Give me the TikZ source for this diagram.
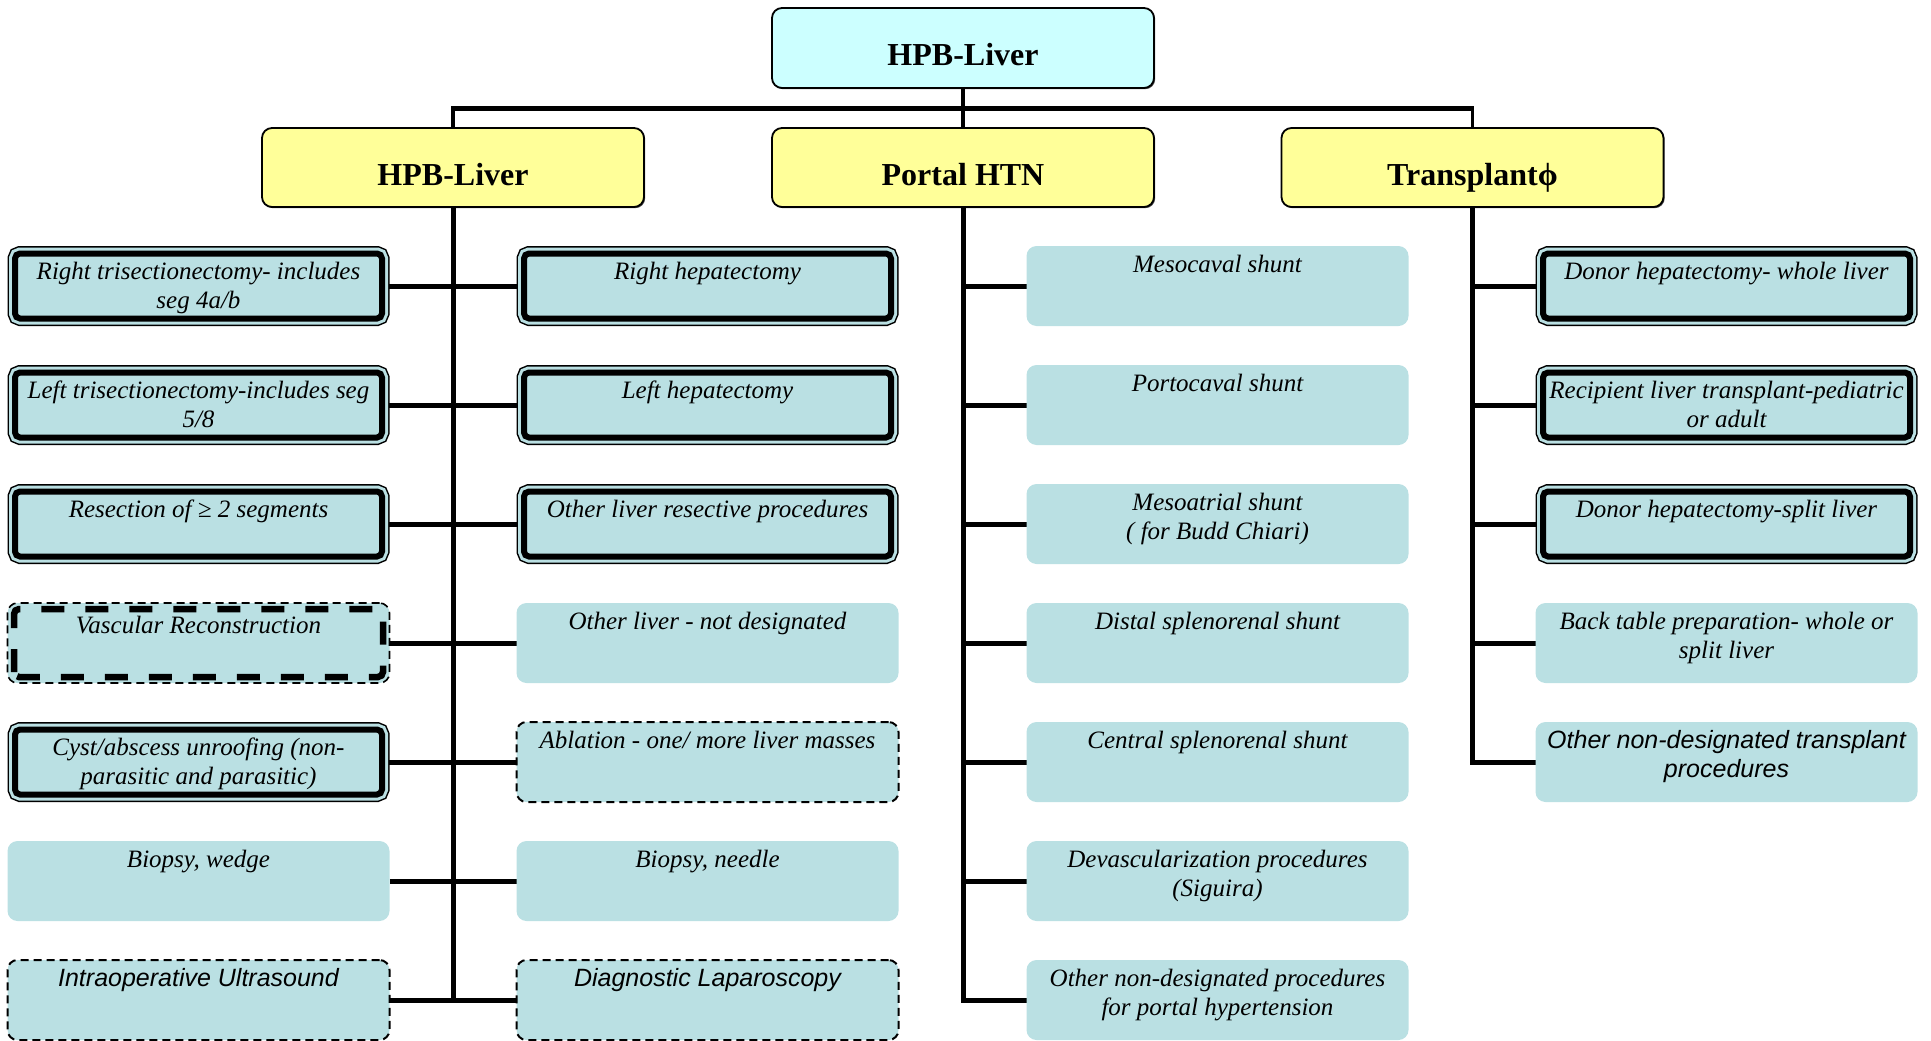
\documentclass[tikz,border=0pt]{standalone}
\usepackage{fontspec}
\setmainfont{Liberation Serif}
\newfontfamily\arialfont{Liberation Sans}
\usetikzlibrary{backgrounds,shadows}
\definecolor{boxteal}{RGB}{186,224,227}
\definecolor{topcyan}{RGB}{204,255,255}
\definecolor{midyellow}{RGB}{255,255,153}
\begin{document}
\begin{tikzpicture}[x=1pt,y=-1pt,
  every node/.style={outer sep=0pt},
  headbox/.style={rounded corners=10pt, draw=black, line width=1.8pt,
    minimum width=382pt, inner xsep=2pt, inner ysep=0pt,
    font=\fontsize{32}{38}\selectfont\bfseries,
    drop shadow={shadow xshift=1.2pt, shadow yshift=-1.2pt, fill=black, opacity=0.7}},
  rootbox/.style={headbox, fill=topcyan, text height=58pt, text depth=22pt},
  midbox/.style={headbox, fill=midyellow, text height=57.5pt, text depth=21.5pt},
  itemfont/.style={font=\fontsize{25}{29}\selectfont\itshape},
  sansfont/.style={font=\fontsize{25}{29}\selectfont\arialfont\itshape},
  plainbox/.style={itemfont, rounded corners=10pt, fill=boxteal, align=center,
    minimum width=382pt, inner xsep=2pt, inner ysep=0pt,
    text height=26pt, text depth=54pt},
  plaintwo/.style={text height=55pt, text depth=25pt},
  dashbox/.style={plainbox, draw=black, line width=2pt, dash pattern=on 8pt off 5pt},
  vascbox/.style={plainbox, draw=black, line width=1.6pt, dash pattern=on 8pt off 5pt,
    text height=30pt, text depth=50pt},
  vascinner/.style={draw=black, line width=6.5pt, dash pattern=on 23pt off 21pt, rounded corners=5pt},
  dblbox/.style={itemfont, rounded corners=5pt, align=center,
    minimum width=367pt, inner xsep=2pt, inner ysep=0pt,
    text height=25.5pt, text depth=39.5pt,
    fill=boxteal, draw=black, line width=6pt,
    preaction={draw=black, line width=15pt},
    preaction={draw=boxteal, line width=12pt}},
  dbltwo/.style={text height=54.5pt, text depth=10.5pt},
  conn/.style={draw=black, line width=5pt},
  barline/.style={draw=black, line width=5pt},
  stub/.style={draw=black, line width=3.5pt}
]
\useasboundingbox (0,0) rectangle (1931,1041);

% top levels
\node[rootbox] (root) at (963,48) {HPB-Liver};
\node[midbox] (m1) at (453,167.5) {HPB-Liver};
\node[midbox] (m2) at (963,167.5) {Portal HTN};
\node[midbox] (m3) at (1472.5,167.5) {Transplant\symbol{"03D5}};
\coordinate (barc) at (963,108);

% column 1
\node[dblbox, dbltwo] (a1) at (198.5,286)  {Right trisectionectomy- includes\\seg 4a/b};
\node[dblbox, dbltwo] (a2) at (198.5,405)  {Left trisectionectomy-includes seg\\5/8};
\node[dblbox]   (a3) at (198.5,524)  {Resection of ≥ 2 segments};
\node[vascbox]  (a4) at (198.5,643)  {Vascular Reconstruction};
\node[dblbox, dbltwo] (a5) at (198.5,762)  {Cyst/abscess unroofing (non-\\parasitic and parasitic)};
\node[plainbox] (a6) at (198.5,881)  {Biopsy, wedge};
\node[dashbox, sansfont] (a7) at (198.5,1000) {Intraoperative Ultrasound};
\draw[vascinner] ([xshift=6.5pt,yshift=6pt]a4.south west) rectangle ([xshift=-6.5pt,yshift=-6pt]a4.north east);

% column 2
\node[dblbox]   (b1) at (707.5,286)  {Right hepatectomy};
\node[dblbox]   (b2) at (707.5,405)  {Left hepatectomy};
\node[dblbox]   (b3) at (707.5,524)  {Other liver resective procedures};
\node[plainbox] (b4) at (707.5,643)  {Other liver - not designated};
\node[dashbox]  (b5) at (707.5,762)  {Ablation - one/ more liver masses};
\node[plainbox] (b6) at (707.5,881)  {Biopsy, needle};
\node[dashbox, sansfont] (b7) at (707.5,1000) {Diagnostic Laparoscopy};

% column 3
\node[plainbox] (c1) at (1217.5,286)  {Mesocaval shunt};
\node[plainbox] (c2) at (1217.5,405)  {Portocaval shunt};
\node[plainbox, plaintwo] (c3) at (1217.5,524)  {Mesoatrial shunt\\( for Budd Chiari)};
\node[plainbox] (c4) at (1217.5,643)  {Distal splenorenal shunt};
\node[plainbox] (c5) at (1217.5,762)  {Central splenorenal shunt};
\node[plainbox, plaintwo] (c6) at (1217.5,881)  {Devascularization procedures\\(Siguira)};
\node[plainbox, plaintwo] (c7) at (1217.5,1000) {Other non-designated procedures\\for portal hypertension};

% column 4
\node[dblbox]   (d1) at (1726.5,286)  {Donor hepatectomy- whole liver};
\node[dblbox, dbltwo] (d2) at (1726.5,405)  {Recipient liver transplant-pediatric\\or adult};
\node[dblbox]   (d3) at (1726.5,524)  {Donor hepatectomy-split liver};
\node[plainbox, plaintwo] (d4) at (1726.5,643)  {Back table preparation- whole or\\split liver};
\node[plainbox, sansfont, plaintwo] (d5) at (1726.5,762) {Other non-designated transplant\\procedures};

\begin{scope}[on background layer]
  % top connectors
  \draw[stub] (root.south) -- (m2.north);
  \draw[stub] (m1.north) -- (m1.north |- barc);
  \draw[stub] (m3.north) -- (m3.north |- barc);
  \draw[barline] ([xshift=-1.75pt]m1.north |- barc) -- ([xshift=1.75pt]m3.north |- barc);
  % HPB-Liver trunk
  \draw[conn] (m1.south) -- (m1.south |- a7);
  \foreach \i in {1,...,7} {
    \draw[conn] (a\i.east) -- (b\i.west);
  }
  % Portal trunk
  \draw[conn] (m2.south) |- (c7.west);
  \foreach \i in {1,...,6} {
    \draw[conn] (m2.south |- c\i) -- (c\i.west);
  }
  % Transplant trunk
  \draw[conn] (m3.south) |- (d5.west);
  \foreach \i in {1,...,4} {
    \draw[conn] (m3.south |- d\i) -- (d\i.west);
  }
\end{scope}
\end{tikzpicture}
\end{document}
